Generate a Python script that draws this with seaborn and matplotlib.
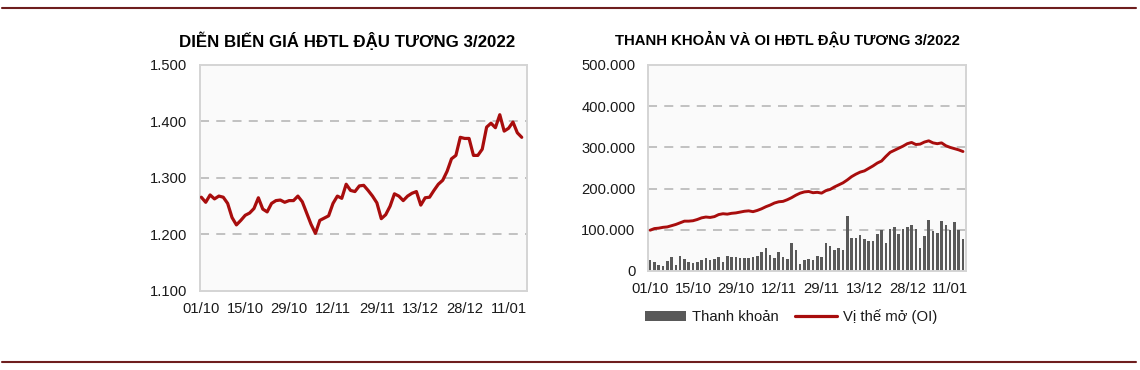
import numpy as np
import pandas as pd
import matplotlib
matplotlib.use("Agg")
import matplotlib.pyplot as plt
from matplotlib.ticker import FuncFormatter, FixedLocator
from matplotlib.patches import Patch
from matplotlib.lines import Line2D
import seaborn as sns

# ---------------- data ----------------
tick_labels = ["01/10", "15/10", "29/10", "12/11", "29/11", "13/12", "28/12", "11/01"]
tick_positions = [0, 10, 20, 30, 40, 50, 60, 70]

price = [1266, 1257, 1270, 1263, 1268, 1266, 1255, 1230, 1217, 1225,
         1234, 1238, 1246, 1265, 1245, 1240, 1255, 1260, 1261, 1257,
         1260, 1260, 1268, 1258, 1238, 1218, 1202, 1225, 1229, 1233,
         1255, 1268, 1264, 1289, 1278, 1276, 1286, 1287, 1278, 1268,
         1256, 1228, 1235, 1250, 1272, 1268, 1260, 1268, 1273, 1276,
         1252, 1265, 1266, 1278, 1289, 1296, 1312, 1334, 1340, 1372,
         1370, 1370, 1340, 1340, 1351, 1390, 1397, 1389, 1412, 1383,
         1388, 1399, 1380, 1372]

volume = [27, 22, 15, 12, 25, 35, 15, 36, 30, 22,
          20, 22, 27, 32, 27, 30, 35, 22, 36, 35,
          35, 32, 32, 32, 34, 37, 47, 57, 40, 32,
          45, 35, 30, 67, 52, 17, 27, 30, 27, 37,
          35, 69, 60, 52, 55, 52, 134, 81, 81, 87,
          77, 74, 74, 91, 99, 69, 102, 106, 89, 103,
          106, 112, 102, 56, 85, 124, 98, 93, 121, 112,
          100, 118, 100, 77]
volume = [v * 1000 for v in volume]

open_interest = [99, 103, 104, 106, 107, 110, 113, 117, 121, 121,
                 122, 125, 129, 131, 130, 132, 137, 139, 138, 140,
                 141, 143, 145, 146, 144, 147, 151, 156, 160, 165,
                 168, 169, 173, 178, 184, 189, 192, 193, 190, 191,
                 189, 195, 198, 204, 209, 214, 221, 229, 235, 240,
                 243, 249, 255, 262, 267, 278, 288, 293, 298, 303,
                 309, 312, 307, 308, 313, 316, 311, 309, 311, 304,
                 300, 297, 294, 290]
open_interest = [v * 1000 for v in open_interest]

left_title = "DIỄN BIẾN GIÁ HĐTL ĐẬU TƯƠNG 3/2022"
right_title = "THANH KHOẢN VÀ OI HĐTL ĐẬU TƯƠNG 3/2022"
legend_labels = ["Thanh khoản", "Vị thế mở (OI)"]

# ---------------- style ----------------
sns.set_theme(style="white")
plt.rcParams["font.family"] = ["Liberation Sans", "DejaVu Sans"]

RED = "#a80d0d"
BAR = "#595959"
GRID = "#bdbdbd"
FRAME = "#d4d4d4"
BG = "#fafafa"
TXT = "#1a1a1a"

idx = list(range(len(price)))
df_price = pd.DataFrame({"i": idx, "price": price})
df_right = pd.DataFrame({"i": idx, "vol": volume, "oi": open_interest})

fig = plt.figure(figsize=(11.4, 3.7), dpi=100)
ax1 = fig.add_axes([200 / 1140, 1 - 291 / 370, 327 / 1140, 226 / 370])
ax2 = fig.add_axes([648 / 1140, 1 - 271 / 370, 318 / 1140, 206 / 370])

def dotfmt(v, pos):
    return f"{int(round(v)):,}".replace(",", ".")

def style_axis(ax, yticks):
    ax.set_facecolor(BG)
    for s in ax.spines.values():
        s.set_color(FRAME)
        s.set_linewidth(1.4)
    ax.yaxis.set_major_locator(FixedLocator(yticks))
    ax.yaxis.set_major_formatter(FuncFormatter(dotfmt))
    ax.xaxis.set_major_locator(FixedLocator(tick_positions))
    ax.set_xticklabels(tick_labels)
    ax.tick_params(axis="both", length=0, labelsize=10.6, colors=TXT)
    ax.tick_params(axis="y", pad=9)
    ax.tick_params(axis="x", pad=8)
    for y in yticks[1:-1]:
        ax.axhline(y, color=GRID, lw=1.3, ls=(0, (5, 4)), zorder=0)
    ax.set_xlabel("")
    ax.set_ylabel("")
    ax.grid(False)

# ---- left chart ----
sns.lineplot(data=df_price, x="i", y="price", ax=ax1, color=RED, lw=2.3, zorder=3)
ax1.set_ylim(1100, 1500)
ax1.set_xlim(-0.3, 74.2)
style_axis(ax1, [1100, 1200, 1300, 1400, 1500])

# ---- right chart ----
sns.barplot(data=df_right, x="i", y="vol", ax=ax2, color=BAR, width=0.62,
            native_scale=True, saturation=1, linewidth=0, zorder=2)
sns.lineplot(data=df_right, x="i", y="oi", ax=ax2, color=RED, lw=2.1, zorder=3)
ax2.set_ylim(0, 500000)
ax2.set_xlim(-0.5, 73.7)
style_axis(ax2, [0, 100000, 200000, 300000, 400000, 500000])

# titles
fig.text(347 / 1140, 1 - 41 / 370, left_title, ha="center", va="center",
         fontsize=12.2, fontweight="bold", color="black")
fig.text(787 / 1140, 1 - 40 / 370, right_title, ha="center", va="center",
         fontsize=10.7, fontweight="bold", color="black")

# legend
handles = [Patch(facecolor=BAR, edgecolor="none"),
           Line2D([0], [0], color=RED, lw=2.3)]
fig.legend(handles, legend_labels, loc="center", bbox_to_anchor=(791 / 1140, 1 - 317 / 370),
           ncol=2, frameon=False, fontsize=10.7, handlelength=2.8, handletextpad=0.4,
           columnspacing=1.1, labelcolor=TXT)

# decorative horizontal rules
for yy in [8, 362]:
    fig.add_artist(Line2D([2 / 1140, 1136 / 1140], [1 - yy / 370, 1 - yy / 370],
                          color="#6e1e1e", lw=1.5))

fig.savefig("out.png", dpi=100, facecolor="white")
